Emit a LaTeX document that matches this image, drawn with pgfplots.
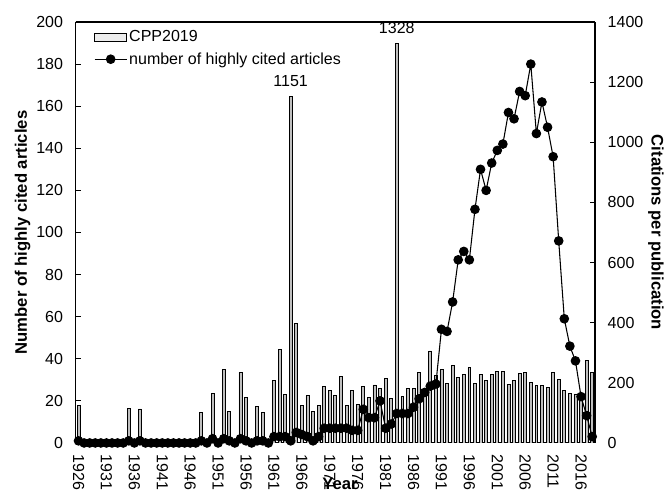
\documentclass[border=0pt]{standalone}
\usepackage{pgfplots}
\pgfplotsset{compat=1.18}
\usepackage{pgfplotstable}
\usepackage{fontspec}
\setmainfont{Liberation Sans}

\pgfplotsset{linelegend/.style={legend image code/.code={\draw[mark repeat=2,mark phase=2,##1] plot coordinates {(0pt,0pt) (12pt,0pt) (24pt,0pt)};}}}

\pgfplotstableread{
year cpp hca
1926 126 1
1927 0 0
1928 0 0
1929 0 0
1930 0 0
1931 0 0
1932 0 0
1933 0 0
1934 0 0
1935 115 1
1936 0 0
1937 113 1
1938 0 0
1939 0 0
1940 0 0
1941 0 0
1942 0 0
1943 0 0
1944 0 0
1945 0 0
1946 0 0
1947 0 0
1948 101 1
1949 0 0
1950 165 2
1951 0 0
1952 243 2
1953 106 1
1954 0 0
1955 235 2
1956 152 1
1957 0 0
1958 121 1
1959 101 1
1960 0 0
1961 207 3
1962 311 3
1963 160 3
1964 1151 1
1965 398 5
1966 126 4
1967 157 3
1968 106 1
1969 126 3
1970 187 7
1971 174 7
1972 157 7
1973 220 7
1974 126 7
1975 174 6
1976 128 6
1977 187 16
1978 151 12
1979 193 12
1980 180 20
1981 215 7
1982 149 9
1983 1328 14
1984 154 14
1985 180 14
1986 180 17
1987 235 21
1988 182 24
1989 306 27
1990 226 28
1991 243 54
1992 198 53
1993 257 67
1994 218 87
1995 229 91
1996 250 87
1997 198 111
1998 228 130
1999 207 120
2000 229 133
2001 237 139
2002 237 142
2003 196 157
2004 207 154
2005 232 167
2006 234 165
2007 202 180
2008 190 147
2009 190 162
2010 184 150
2011 234 136
2012 212 96
2013 174 59
2014 165 46
2015 163 39
2016 163 22
2017 273 13
2018 235 3
}\datatable

\begin{document}
\begin{tikzpicture}
\pgfplotsset{
  common/.style={
    width=389.5pt, height=315.75pt, scale only axis,
    xmin=1925.5, xmax=2018.5,
    /pgf/number format/assume math mode=true,
    /pgf/number format/1000 sep={},
    tick label style={font=\fontsize{12}{14}\selectfont},
    tick align=inside,
    major tick length=3.75pt,
    axis line style={-, line width=0.8pt},
    every tick/.style={black, line width=0.8pt},
  }
}
\begin{axis}[common,
  ymin=0, ymax=1400, ytick={0,200,...,1400},
  axis y line*=right,
  xtick={1926,1931,...,2016},
  xtick pos=bottom,
  x tick style={draw=none},
  xticklabel style={rotate=-90, anchor=west},
  xticklabel shift=5pt,
  yticklabel shift=6pt,
  xlabel={Year},
  ylabel={Citations per publication},
  every axis x label/.style={at={(axis description cs:0.509,-0.097)}, anchor=center, font=\fontsize{12.5}{15}\selectfont\bfseries},
  every axis y label/.style={at={(axis description cs:1.1175,0.5)}, rotate=-90, anchor=center, font=\fontsize{12.5}{15}\selectfont\bfseries},
]
\addplot[ybar, bar width=2.2pt, fill=gray!50, draw=black, line width=0.6pt] table[x=year,y=cpp]{\datatable};
\node[font=\fontsize{12}{14}\selectfont] at (axis cs:1964,1151) [yshift=11.5pt] {1151};
\node[font=\fontsize{12}{14}\selectfont] at (axis cs:1983,1328) [yshift=11.5pt] {1328};
\end{axis}
\begin{axis}[common,
  ymin=0, ymax=200, ytick={0,20,...,200},
  axis y line*=left,
  hide x axis,
  yticklabel shift=6pt,
  ylabel={Number of highly cited articles},
  every axis y label/.style={at={(axis description cs:-0.1024,0.5)}, rotate=90, anchor=center, font=\fontsize{12.5}{15}\selectfont\bfseries},
  legend style={at={(axis description cs:0.035,0.985)}, anchor=north west, draw=none, fill=none, inner sep=0pt, row sep=3.5pt, font=\fontsize{12}{14}\selectfont, nodes={inner sep=1.5pt}},
  legend cell align=left,
]
\addlegendimage{legend image code/.code={\draw[fill=gray!15,draw=black,line width=0.6pt] (0pt,-3pt) rectangle (24pt,3pt);}}
\addlegendentry{CPP2019}
\addplot[black, line width=0.8pt, mark=*, mark size=3.2pt, linelegend]
  table[x=year,y=hca]{\datatable};
\addlegendentry{number of highly cited articles}
\end{axis}
\pgfresetboundingbox
\path (-56.8pt,-37.5pt) rectangle (443.5pt,332.25pt);
\end{tikzpicture}
\end{document}
